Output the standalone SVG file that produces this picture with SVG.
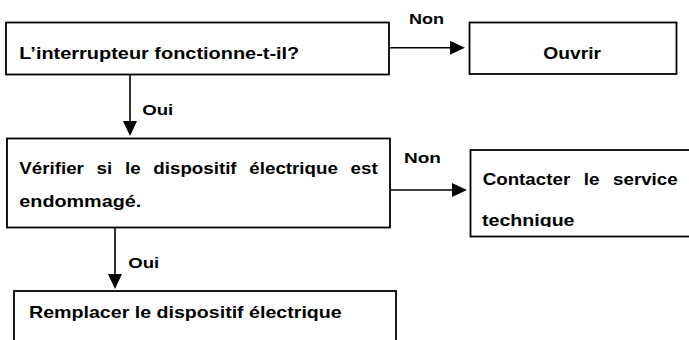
<svg xmlns="http://www.w3.org/2000/svg" width="689" height="340" viewBox="0 0 689 340">
  <style>
    .box { fill: #ffffff; stroke: #000000; stroke-width: 1.8; }
    .edge { fill: none; stroke: #000000; stroke-width: 1.6; }
    .t { font-family: "Liberation Sans", Arial, sans-serif; font-weight: bold; font-size: 16.5px; fill: #000000; }
    .lbl { font-family: "Liberation Sans", Arial, sans-serif; font-weight: bold; font-size: 15.5px; fill: #000000; }
  </style>
  <defs>
    <marker id="arrow" markerUnits="userSpaceOnUse" markerWidth="15" markerHeight="14" viewBox="0 0 15 14" refX="10" refY="7" orient="auto">
      <path d="M0,0 L15,7 L0,14 Z" fill="#000000"/>
    </marker>
    <clipPath id="clipContact">
      <rect x="470" y="150" width="230" height="77"/>
    </clipPath>
  </defs>
  <rect width="689" height="340" fill="#ffffff"/>

  <g id="connectors">
    <line class="edge" x1="389" y1="47.7" x2="460" y2="47.7" marker-end="url(#arrow)"/>
    <line class="edge" x1="130" y1="74.5" x2="130" y2="131" marker-end="url(#arrow)"/>
    <line class="edge" x1="390" y1="190" x2="462" y2="190" marker-end="url(#arrow)"/>
    <line class="edge" x1="115" y1="227.5" x2="115" y2="284" marker-end="url(#arrow)"/>
    <text class="lbl" x="409" y="24.3" textLength="35" lengthAdjust="spacingAndGlyphs">Non</text>
    <text class="lbl" x="142.3" y="115" textLength="31" lengthAdjust="spacingAndGlyphs">Oui</text>
    <text class="lbl" x="404" y="163.3" textLength="37" lengthAdjust="spacingAndGlyphs">Non</text>
    <text class="lbl" x="128.3" y="267.7" textLength="31" lengthAdjust="spacingAndGlyphs">Oui</text>
  </g>

  <g id="node-interrupteur">
    <rect class="box" x="6" y="22.5" width="383" height="52"/>
    <text class="t" x="19.3" y="59" textLength="280" lengthAdjust="spacingAndGlyphs">L’interrupteur fonctionne-t-il?</text>
  </g>

  <g id="node-ouvrir">
    <rect class="box" x="469.5" y="22.5" width="207" height="51.5"/>
    <text class="t" x="543.3" y="59" textLength="57.7" lengthAdjust="spacingAndGlyphs">Ouvrir</text>
  </g>

  <g id="node-verifier">
    <rect class="box" x="7" y="138.5" width="383" height="89"/>
    <text class="t" x="19.3" y="174.3" word-spacing="6.6" textLength="358.4" lengthAdjust="spacingAndGlyphs">Vérifier si le dispositif électrique est</text>
    <text class="t" x="19.3" y="206.7" textLength="122" lengthAdjust="spacingAndGlyphs">endommagé.</text>
  </g>

  <g id="node-contacter">
    <rect class="box" x="470.5" y="150" width="230" height="86.5"/>
    <g clip-path="url(#clipContact)">
      <text class="t" x="482.7" y="185" word-spacing="7.4" textLength="195" lengthAdjust="spacingAndGlyphs">Contacter le service</text>
      <text class="t" x="482" y="226" textLength="92.5" lengthAdjust="spacingAndGlyphs">technique</text>
    </g>
  </g>

  <g id="node-remplacer">
    <rect class="box" x="14" y="291" width="382" height="60"/>
    <text class="t" x="29" y="318.3" textLength="312.7" lengthAdjust="spacingAndGlyphs">Remplacer le dispositif électrique</text>
  </g>
</svg>
